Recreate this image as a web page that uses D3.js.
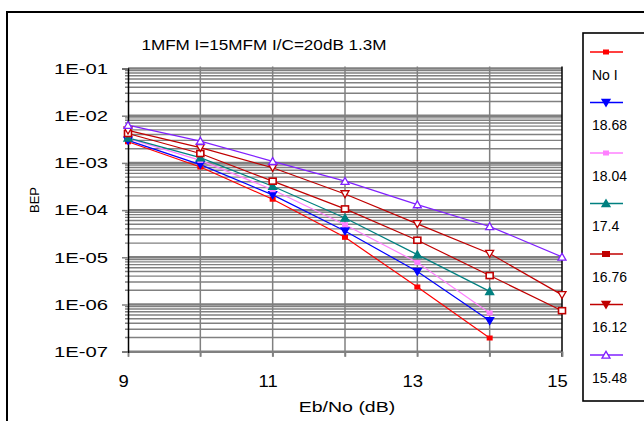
<!DOCTYPE html>
<html><head><meta charset="utf-8">
<script src="https://cdn.jsdelivr.net/npm/d3@7"></script>
<style>
html,body{margin:0;padding:0;background:#fff;}
svg{display:block;font-family:"Liberation Sans",Arial,sans-serif;}
</style></head>
<body>
<svg id="chart" width="644" height="421"></svg>
<script>
const title = "1MFM I=15MFM I/C=20dB 1.3M";
const xLabel = "Eb/No (dB)";
const yLabel = "BEP";
const xVals = [9, 10, 11, 12, 13, 14, 15];
const xTickVals = [9, 11, 13, 15];
const yTickVals = [1e-1, 1e-2, 1e-3, 1e-4, 1e-5, 1e-6, 1e-7];
const yTickLabels = ["1E-01", "1E-02", "1E-03", "1E-04", "1E-05", "1E-06", "1E-07"];
const seriesNames = ["No I", "18.68", "18.04", "17.4", "16.76", "16.12", "15.48"];
const seriesColors = ["#ff0000", "#0000ff", "#ff80ff", "#008080", "#c00000", "#c00000", "#8020ff"];
const seriesMarkers = ["sqSmall", "triDown", "sqSmall", "triUp", "sqOpen", "triDownOpen", "triUpOpen"];
const vNoI   = [2.8e-3, 8.2e-4, 1.7e-4, 2.65e-5, 2.35e-6, 1.95e-7];
const v1868  = [3.0e-3, 9.2e-4, 2.1e-4, 3.6e-5, 5.0e-6, 4.5e-7];
const v1804  = [3.3e-3, 1.13e-3, 2.7e-4, 4.9e-5, 7.8e-6, 6.6e-7];
const v174   = [3.4e-3, 1.29e-3, 3.2e-4, 6.8e-5, 1.14e-5, 1.9e-6];
const v1676  = [4.2e-3, 1.58e-3, 4.1e-4, 1.06e-4, 2.3e-5, 4.1e-6, 7.4e-7];
const v1612  = [4.9e-3, 2.1e-3, 7.9e-4, 2.2e-4, 5.1e-5, 1.2e-5, 1.6e-6];
const v1548  = [6.3e-3, 2.9e-3, 1.08e-3, 4.1e-4, 1.31e-4, 4.5e-5, 1.02e-5];
const seriesValues = [vNoI, v1868, v1804, v174, v1676, v1612, v1548];

const svg = d3.select("#chart");
const L = 128, R = 562, T = 68.5, B = 351.7;
const x = d3.scaleLinear().domain([9, 15]).range([L, R]);
const y = d3.scaleLog().domain([1e-7, 1e-1]).range([B, T]);

function stretch(sel, factor) {
  sel.each(function () {
    const len = this.getComputedTextLength();
    d3.select(this).attr("textLength", len * factor).attr("lengthAdjust", "spacingAndGlyphs");
  });
}

// outer border
svg.append("rect").attr("x", 7).attr("y", 12).attr("width", 700).attr("height", 500)
  .attr("fill", "#fff").attr("stroke", "#000").attr("stroke-width", 2);

// minor horizontal gridlines
const minor = [];
for (let d = -7; d <= -2; d++) for (let k = 2; k <= 9; k++) minor.push(k * Math.pow(10, d));
const grid = svg.append("g");
grid.selectAll("line.mi").data(minor).join("line")
  .attr("x1", L - 3).attr("x2", R)
  .attr("y1", d => y(d)).attr("y2", d => y(d))
  .attr("stroke", "#808080").attr("stroke-width", 1.4);
grid.selectAll("line.ma").data(yTickVals).join("line")
  .attr("x1", L).attr("x2", R)
  .attr("y1", d => y(d)).attr("y2", d => y(d))
  .attr("stroke", "#808080").attr("stroke-width", 2.4);
// vertical gridlines
grid.selectAll("line.v").data(xVals.slice(1, -1)).join("line")
  .attr("x1", d => x(d)).attr("x2", d => x(d))
  .attr("y1", T - 2).attr("y2", B + 5)
  .attr("stroke", "#808080").attr("stroke-width", 1.5);

// right border
svg.append("line").attr("x1", R).attr("x2", R).attr("y1", T - 2).attr("y2", B + 5)
  .attr("stroke", "#000").attr("stroke-width", 1.5);

// bottom axis ticks
svg.append("g").attr("transform", `translate(0,${B})`)
  .call(d3.axisBottom(x).tickValues(xVals).tickSize(5).tickFormat(""))
  .call(g => g.select(".domain").attr("stroke", "#808080").attr("stroke-width", 1.5))
  .call(g => g.selectAll(".tick line").attr("stroke", "#808080").attr("stroke-width", 1.5));

// left axis
svg.append("g").attr("transform", `translate(${L},0)`)
  .call(d3.axisLeft(y).tickValues(yTickVals).tickSize(6).tickFormat(""))
  .call(g => g.select(".domain").attr("stroke", "#000").attr("stroke-width", 1.5))
  .call(g => g.selectAll(".tick line").attr("stroke", "#808080").attr("stroke-width", 1.5));

// y tick labels
const yl = svg.append("g").attr("transform", `translate(${L},0)`)
  .call(d3.axisLeft(y).tickValues(yTickVals).tickSize(0).tickPadding(20)
    .tickFormat((d, i) => yTickLabels[i]));
yl.select(".domain").remove();
yl.selectAll("text").attr("font-size", 15).attr("fill", "#000")
  .attr("font-family", "Liberation Sans, Arial, sans-serif");
stretch(yl.selectAll("text"), 1.35);

// x tick labels
const xl = svg.append("g").attr("transform", `translate(-5,${B})`)
  .call(d3.axisBottom(x).tickValues(xTickVals).tickSize(0).tickPadding(24)
    .tickFormat(d3.format("d")));
xl.select(".domain").remove();
xl.selectAll("text").attr("font-size", 16).attr("fill", "#000")
  .attr("font-family", "Liberation Sans, Arial, sans-serif");
stretch(xl.selectAll("text"), 1.15);

// title
const tt = svg.append("text").attr("x", 264).attr("y", 50).attr("text-anchor", "middle")
  .attr("font-size", 15).text(title);
stretch(tt, 1.14);

// axis titles
const xt = svg.append("text").attr("x", 347).attr("y", 412).attr("text-anchor", "middle")
  .attr("font-size", 15).text(xLabel);
stretch(xt, 1.3);
svg.append("text").attr("transform", "translate(39,200) rotate(-90)")
  .attr("text-anchor", "middle").attr("font-size", 13).text(yLabel);

// marker drawing
function drawMarker(g, type, color, cx, cy) {
  const s = 3.2;
  if (type === "sqSmall") {
    g.append("rect").attr("x", cx - 3).attr("y", cy - 2.5).attr("width", 6).attr("height", 5).attr("fill", color);
  } else if (type === "sqBig") {
    g.append("rect").attr("x", cx - 4).attr("y", cy - 3).attr("width", 8).attr("height", 6).attr("fill", color);
  } else if (type === "sqOpen") {
    g.append("rect").attr("x", cx - 3.5).attr("y", cy - 3).attr("width", 7).attr("height", 6)
      .attr("fill", "#fff").attr("stroke", color).attr("stroke-width", 1.6);
  } else if (type === "triDown" || type === "triDownOpen") {
    g.append("path").attr("d", `M${cx - 4},${cy - s}L${cx + 4},${cy - s}L${cx},${cy + s + 0.5}Z`)
      .attr("fill", type === "triDown" ? color : "#fff").attr("stroke", color).attr("stroke-width", 1.3);
  } else if (type === "triUp" || type === "triUpOpen") {
    g.append("path").attr("d", `M${cx - 4},${cy + s}L${cx + 4},${cy + s}L${cx},${cy - s - 0.5}Z`)
      .attr("fill", type === "triUp" ? color : "#fff").attr("stroke", color).attr("stroke-width", 1.3);
  }
}

// series
const line = d3.line().x((d, i) => x(xVals[i])).y(d => y(d));
const plot = svg.append("g");
seriesValues.forEach((vals, si) => {
  plot.append("path").attr("d", line(vals)).attr("fill", "none")
    .attr("stroke", seriesColors[si]).attr("stroke-width", 1.2);
});
seriesValues.forEach((vals, si) => {
  const g = plot.append("g");
  vals.forEach((v, i) => drawMarker(g, seriesMarkers[si], seriesColors[si], x(xVals[i]), y(v)));
});

// legend
svg.append("rect").attr("x", 583).attr("y", 33).attr("width", 100).attr("height", 368)
  .attr("fill", "#fff").attr("stroke", "#000").attr("stroke-width", 1.6);
const legendMarkers = ["sqSmall", "triDown", "sqSmall", "triUp", "sqBig", "triDown", "triUpOpen"];
seriesNames.forEach((name, i) => {
  const ly = 52 + i * 50.5;
  const g = svg.append("g");
  g.append("line").attr("x1", 590).attr("x2", 623).attr("y1", ly).attr("y2", ly)
    .attr("stroke", seriesColors[i]).attr("stroke-width", 1.5);
  drawMarker(g, legendMarkers[i], seriesColors[i], 606, ly);
  g.append("text").attr("x", 592).attr("y", ly + 27.5).attr("font-size", 14).text(name);
});
</script>
</body></html>
